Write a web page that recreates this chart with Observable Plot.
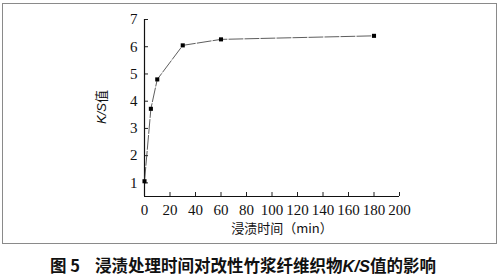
<!DOCTYPE html>
<html>
<head>
<meta charset="utf-8">
<script src="https://cdn.jsdelivr.net/npm/d3@7"></script>
<script src="https://cdn.jsdelivr.net/npm/@observablehq/plot@0.6"></script>
<style>
  html, body { margin: 0; padding: 0; background: #fff; }
  #wrap { position: relative; width: 500px; height: 276px; overflow: hidden; background: #fff; }
  #frame { position: absolute; left: 2px; top: 3px; width: 495px; height: 241px; border: 1px solid #8a8a8a; box-sizing: border-box; }
  #chart { position: absolute; left: 0; top: 0; }
  #caption { position: absolute; left: 0; width: 500px; top: 255px; text-align: left; padding-left: 50px; box-sizing: border-box;
    font-family: "Noto Sans CJK SC", sans-serif; font-weight: bold; font-size: 16.5px; line-height: 20px; color: #111; white-space: nowrap; }
  #caption i { font-family: "Liberation Sans", Arial, sans-serif; font-style: italic; font-weight: bold; }
</style>
</head>
<body>
<div id="wrap">
  <div id="frame"></div>
  <div id="chart"></div>
  <div id="caption">图 5&nbsp;&nbsp;&nbsp;&nbsp;浸渍处理时间对改性竹浆纤维织物<i>K/S</i>值的影响</div>
</div>
<script>
const times = [0, 5, 10, 30, 60, 180];
const ksValues = [1.06, 3.72, 4.8, 6.05, 6.27, 6.4];
const xTicks = [0, 20, 40, 60, 80, 100, 120, 140, 160, 180, 200];
const yTicks = [1, 2, 3, 4, 5, 6, 7];
const xLabel = "浸渍时间（min）";
const yLabelItalic = "K/S";
const yLabelPlain = "值";

const data = times.map((t, i) => ({t, v: ksValues[i]}));
const serif = "'Liberation Serif', 'Times New Roman', 'DejaVu Serif', serif";

const chart = Plot.plot({
  width: 500,
  height: 248,
  marginLeft: 144,
  marginRight: 101,
  marginTop: 19,
  marginBottom: 52,
  style: {fontSize: "15px", color: "#111", background: "transparent"},
  x: {domain: [0, 200], ticks: xTicks},
  y: {domain: [0.5, 7], ticks: yTicks},
  marks: [
    Plot.axisX({ticks: xTicks, tickSize: -4, tickPadding: 12, tickFormat: "d", label: null, fontSize: 15, stroke: "#222", fill: "#111"}),
    Plot.axisY({ticks: yTicks, tickSize: -4, tickPadding: 11, tickFormat: "d", label: null, fontSize: 15, stroke: "#222", fill: "#111"}),
    Plot.ruleX([0], {stroke: "#111", strokeWidth: 1.2}),
    Plot.ruleY([0.5], {stroke: "#111", strokeWidth: 1.2}),
    Plot.line(data, {x: "t", y: "v", stroke: "#333", strokeWidth: 0.8, strokeDasharray: "14 2"}),
    Plot.dot(data, {x: "t", y: "v", symbol: "square", r: 2.3, fill: "#000", stroke: "none"})
  ]
});
chart.setAttribute("font-family", serif);
chart.style.fontFamily = serif;
document.getElementById("chart").appendChild(chart);
d3.select(chart).selectAll("g[aria-label$='tick label']").attr("font-family", serif).style("font-family", serif);
d3.select(chart).selectAll("g[aria-label$='tick label'] text").attr("font-family", serif).style("font-family", serif);

// axis titles as real text
const svg = d3.select(chart);
svg.append("text")
  .attr("x", 282).attr("y", 233)
  .attr("text-anchor", "middle")
  .style("font-family", "'Noto Sans CJK SC', sans-serif")
  .style("font-size", "13px")
  .attr("fill", "#111")
  .text(xLabel);

const yl = svg.append("text")
  .attr("transform", "translate(106,107) rotate(-90)")
  .attr("text-anchor", "middle")
  .style("font-size", "13px")
  .attr("fill", "#111");
yl.append("tspan").style("font-family", "'Liberation Sans', Arial, sans-serif").style("font-style", "italic").text(yLabelItalic);
yl.append("tspan").style("font-family", "'Noto Sans CJK SC', sans-serif").text(yLabelPlain);
</script>
</body>
</html>
